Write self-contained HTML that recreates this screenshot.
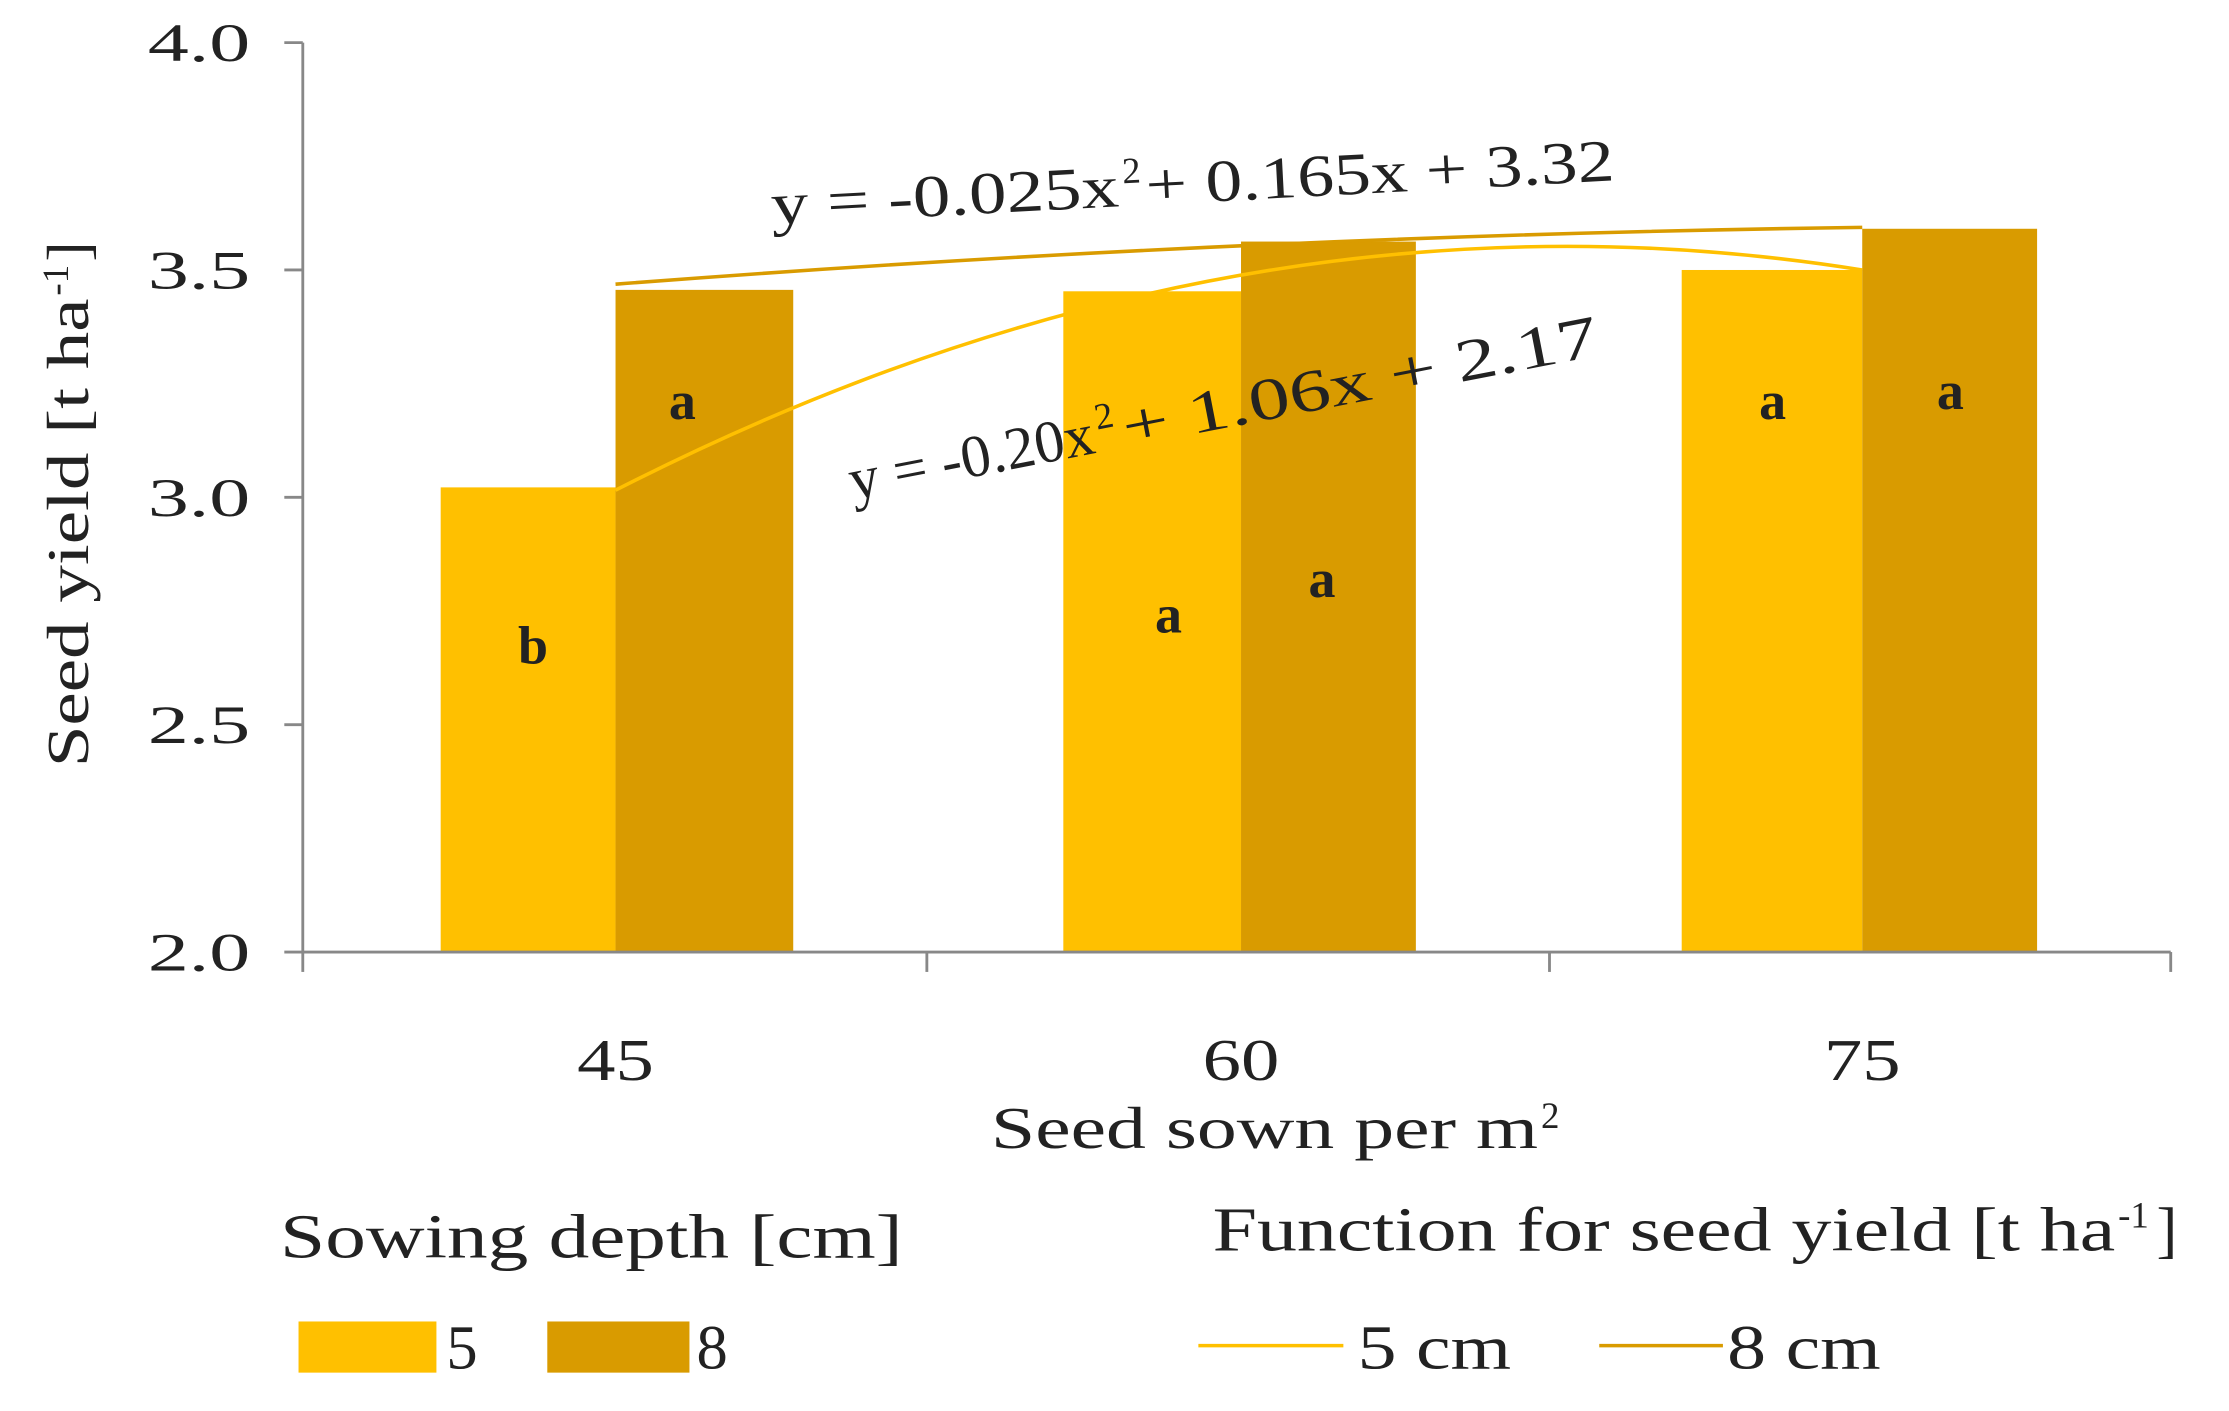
<!DOCTYPE html>
<html><head><meta charset="utf-8"><style>
html,body{margin:0;padding:0;background:#fff;}
svg{display:block;}
text{font-family:"Liberation Serif",serif;fill:#222;}
</style></head><body>
<svg width="2229" height="1411" viewBox="0 0 1568 993" preserveAspectRatio="none" xmlns="http://www.w3.org/2000/svg">
<rect width="1568" height="993" fill="#fff"/>
<rect x="310" y="343" width="123" height="327" fill="#FFC000"/>
<rect x="433" y="204" width="125" height="466" fill="#D99B00"/>
<rect x="748" y="205" width="125" height="465" fill="#FFC000"/>
<rect x="873" y="170" width="123" height="500" fill="#D99B00"/>
<rect x="1183" y="190" width="127" height="480" fill="#FFC000"/>
<rect x="1310" y="161" width="123" height="509" fill="#D99B00"/>
<path d="M433,200 Q873,166 1310,160" fill="none" stroke="#D99B00" stroke-width="2.5"/>
<path d="M433,345 Q873,120 1310,190" fill="none" stroke="#FFC000" stroke-width="2.5"/>
<g stroke="#888" stroke-width="2" fill="none">
<line x1="213" y1="30" x2="213" y2="670"/>
<line x1="213" y1="670" x2="1527" y2="670"/>
<line x1="200" y1="30" x2="213" y2="30"/>
<line x1="200" y1="190" x2="213" y2="190"/>
<line x1="200" y1="350" x2="213" y2="350"/>
<line x1="200" y1="510" x2="213" y2="510"/>
<line x1="200" y1="670" x2="213" y2="670"/>
<line x1="213" y1="670" x2="213" y2="684"/>
<line x1="652" y1="670" x2="652" y2="684"/>
<line x1="1090" y1="670" x2="1090" y2="684"/>
<line x1="1527" y1="670" x2="1527" y2="684"/>
</g>
<g font-size="38" text-anchor="end">
<text x="176" y="43" textLength="72" lengthAdjust="spacingAndGlyphs">4.0</text>
<text x="176" y="203" textLength="72" lengthAdjust="spacingAndGlyphs">3.5</text>
<text x="176" y="363" textLength="72" lengthAdjust="spacingAndGlyphs">3.0</text>
<text x="176" y="523" textLength="72" lengthAdjust="spacingAndGlyphs">2.5</text>
<text x="176" y="683" textLength="72" lengthAdjust="spacingAndGlyphs">2.0</text>
</g>
<g font-size="42">
<text x="406" y="760" textLength="54" lengthAdjust="spacingAndGlyphs">45</text>
<text x="846" y="760" textLength="54" lengthAdjust="spacingAndGlyphs">60</text>
<text x="1283" y="760" textLength="54" lengthAdjust="spacingAndGlyphs">75</text>
<text x="697" y="808" textLength="385" lengthAdjust="spacingAndGlyphs">Seed sown per m</text>
<text x="1084" y="794" font-size="26">2</text>
</g>
<g transform="translate(62,540) rotate(-90)" font-size="42">
<text x="0" y="0" textLength="330" lengthAdjust="spacingAndGlyphs">Seed yield  [t ha</text>
<text x="332" y="-14" font-size="26">-1</text>
<text x="356" y="0">]</text>
</g>
<g font-size="38" font-weight="bold" text-anchor="middle">
<text x="375" y="467">b</text>
<text x="480" y="295">a</text>
<text x="822" y="445">a</text>
<text x="930" y="420">a</text>
<text x="1247" y="295">a</text>
<text x="1372" y="288">a</text>
</g>
<g transform="translate(543,158) rotate(-3)" font-size="42">
<text x="0" y="0" textLength="245" lengthAdjust="spacingAndGlyphs">y = -0.025x</text>
<text x="248" y="-16" font-size="26">2</text>
<text x="264" y="0" textLength="330" lengthAdjust="spacingAndGlyphs">+ 0.165x + 3.32</text>
</g>
<g transform="translate(600,352) rotate(-11)" font-size="42">
<text x="0" y="0" textLength="175" lengthAdjust="spacingAndGlyphs">y = -0.20x</text>
<text x="178" y="-16" font-size="26">2</text>
<text x="196" y="0" textLength="340" lengthAdjust="spacingAndGlyphs">+ 1.06x + 2.17</text>
</g>
<text x="197" y="885" font-size="44" textLength="438" lengthAdjust="spacingAndGlyphs">Sowing depth [cm]</text>
<rect x="210" y="930" width="97" height="36" fill="#FFC000"/>
<text x="314" y="963" font-size="44">5</text>
<rect x="385" y="930" width="100" height="36" fill="#D99B00"/>
<text x="490" y="963" font-size="44">8</text>
<text x="853" y="880" font-size="44" textLength="635" lengthAdjust="spacingAndGlyphs">Function for seed yield [t ha</text>
<text x="1490" y="864" font-size="26">-1</text>
<text x="1517" y="880" font-size="44">]</text>
<line x1="843" y1="947" x2="945" y2="947" stroke="#FFC000" stroke-width="2.5"/>
<text x="955" y="963" font-size="44" textLength="108" lengthAdjust="spacingAndGlyphs">5 cm</text>
<line x1="1125" y1="947" x2="1212" y2="947" stroke="#D99B00" stroke-width="2.5"/>
<text x="1215" y="963" font-size="44" textLength="108" lengthAdjust="spacingAndGlyphs">8 cm</text>
</svg>
</body></html>
